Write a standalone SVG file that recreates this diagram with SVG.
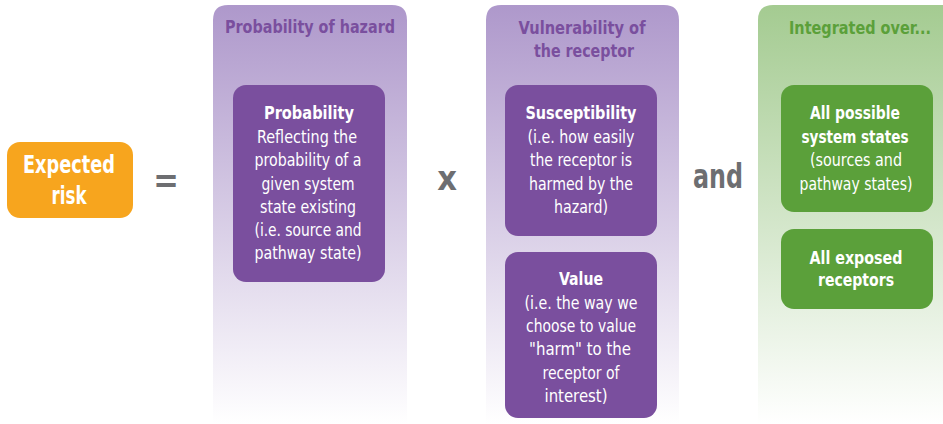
<svg xmlns="http://www.w3.org/2000/svg" width="943" height="424" viewBox="0 0 943 424">
<defs>
<linearGradient id="gp" x1="0" y1="0" x2="0" y2="1">
<stop offset="0" stop-color="#ae98cb"/>
<stop offset="1" stop-color="#ffffff"/>
</linearGradient>
<linearGradient id="gg" x1="0" y1="0" x2="0" y2="1">
<stop offset="0" stop-color="#a4cb91"/>
<stop offset="1" stop-color="#ffffff"/>
</linearGradient>
</defs>
<style>
text{font-family:"DejaVu Sans Condensed","Liberation Sans",sans-serif;text-anchor:middle;dominant-baseline:central}
.b{font-weight:bold}
.w{fill:#ffffff}
.box{fill:#7a4f9e}
.gbox{fill:#5ba03a}
.pt{fill:#7a4f9e;font-weight:bold;font-size:18px}
.gt{fill:#5ba03a;font-weight:bold;font-size:18px}
.t{font-size:18px}
.op{fill:#6d6e71;font-weight:bold;font-size:34px}
</style>
<g id="columns">
<path d="M213,424 V20 Q213,5 228,5 H392 Q407,5 407,20 V424 Z" fill="url(#gp)"/>
<path d="M486,424 V20 Q486,5 501,5 H664 Q679,5 679,20 V424 Z" fill="url(#gp)"/>
<path d="M758,424 V20 Q758,5 773,5 H943 V424 Z" fill="url(#gg)"/>
<text class="pt" x="310" y="26" textLength="170" lengthAdjust="spacingAndGlyphs">Probability of hazard</text>
<text class="pt" x="582" y="27" textLength="127" lengthAdjust="spacingAndGlyphs">Vulnerability of</text>
<text class="pt" x="584" y="50" textLength="100" lengthAdjust="spacingAndGlyphs">the receptor</text>
<text class="gt" x="931" y="27" text-anchor="end" style="text-anchor:end" textLength="142" lengthAdjust="spacingAndGlyphs">Integrated over...</text>
</g>
<g id="expected-risk">
<rect x="7" y="142" width="126" height="76" rx="13" fill="#f7a51e"/>
<text class="w b" x="69" y="164" font-size="25" textLength="92" lengthAdjust="spacingAndGlyphs">Expected</text>
<text class="w b" x="69" y="195" font-size="25" textLength="35" lengthAdjust="spacingAndGlyphs">risk</text>
</g>
<g id="operators">
<text class="op" x="166" y="180">=</text>
<text class="op" x="447" y="178">x</text>
<text class="op" x="718" y="176" textLength="50" lengthAdjust="spacingAndGlyphs">and</text>
</g>
<g id="probability">
<rect class="box" x="233" y="85" width="152" height="197" rx="13"/>
<text class="w b t" x="309" y="112" textLength="90" lengthAdjust="spacingAndGlyphs">Probability</text>
<text class="w t" x="307" y="136" textLength="100" lengthAdjust="spacingAndGlyphs">Reflecting the</text>
<text class="w t" x="308" y="159" textLength="107" lengthAdjust="spacingAndGlyphs">probability of a</text>
<text class="w t" x="308" y="183" textLength="93" lengthAdjust="spacingAndGlyphs">given system</text>
<text class="w t" x="308" y="206" textLength="96" lengthAdjust="spacingAndGlyphs">state existing</text>
<text class="w t" x="308" y="229" textLength="107" lengthAdjust="spacingAndGlyphs">(i.e. source and</text>
<text class="w t" x="308" y="252" textLength="107" lengthAdjust="spacingAndGlyphs">pathway state)</text>
</g>
<g id="susceptibility">
<rect class="box" x="505" y="85" width="152" height="151" rx="13"/>
<text class="w b t" x="581" y="112" textLength="111" lengthAdjust="spacingAndGlyphs">Susceptibility</text>
<text class="w t" x="581" y="136" textLength="107" lengthAdjust="spacingAndGlyphs">(i.e. how easily</text>
<text class="w t" x="581" y="159" textLength="102" lengthAdjust="spacingAndGlyphs">the receptor is</text>
<text class="w t" x="581" y="183" textLength="104" lengthAdjust="spacingAndGlyphs">harmed by the</text>
<text class="w t" x="581" y="206" textLength="54" lengthAdjust="spacingAndGlyphs">hazard)</text>
</g>
<g id="value">
<rect class="box" x="505" y="252" width="152" height="166" rx="13"/>
<text class="w b t" x="581" y="278" textLength="44" lengthAdjust="spacingAndGlyphs">Value</text>
<text class="w t" x="581" y="302" textLength="113" lengthAdjust="spacingAndGlyphs">(i.e. the way we</text>
<text class="w t" x="581" y="325" textLength="110" lengthAdjust="spacingAndGlyphs">choose to value</text>
<text class="w t" x="580" y="348" textLength="102" lengthAdjust="spacingAndGlyphs">"harm" to the</text>
<text class="w t" x="581" y="372" textLength="77" lengthAdjust="spacingAndGlyphs">receptor of</text>
<text class="w t" x="576" y="395" textLength="63" lengthAdjust="spacingAndGlyphs">interest)</text>
</g>
<g id="system-states">
<rect class="gbox" x="781" y="85" width="152" height="127" rx="13"/>
<text class="w b t" x="855" y="112" textLength="90" lengthAdjust="spacingAndGlyphs">All possible</text>
<text class="w b t" x="855" y="136" textLength="107" lengthAdjust="spacingAndGlyphs">system states</text>
<text class="w t" x="856" y="159" textLength="92" lengthAdjust="spacingAndGlyphs">(sources and</text>
<text class="w t" x="856" y="183" textLength="113" lengthAdjust="spacingAndGlyphs">pathway states)</text>
</g>
<g id="receptors">
<rect class="gbox" x="781" y="229" width="152" height="80" rx="13"/>
<text class="w b t" x="856" y="257" textLength="93" lengthAdjust="spacingAndGlyphs">All exposed</text>
<text class="w b t" x="856" y="279" textLength="76" lengthAdjust="spacingAndGlyphs">receptors</text>
</g>
</svg>
